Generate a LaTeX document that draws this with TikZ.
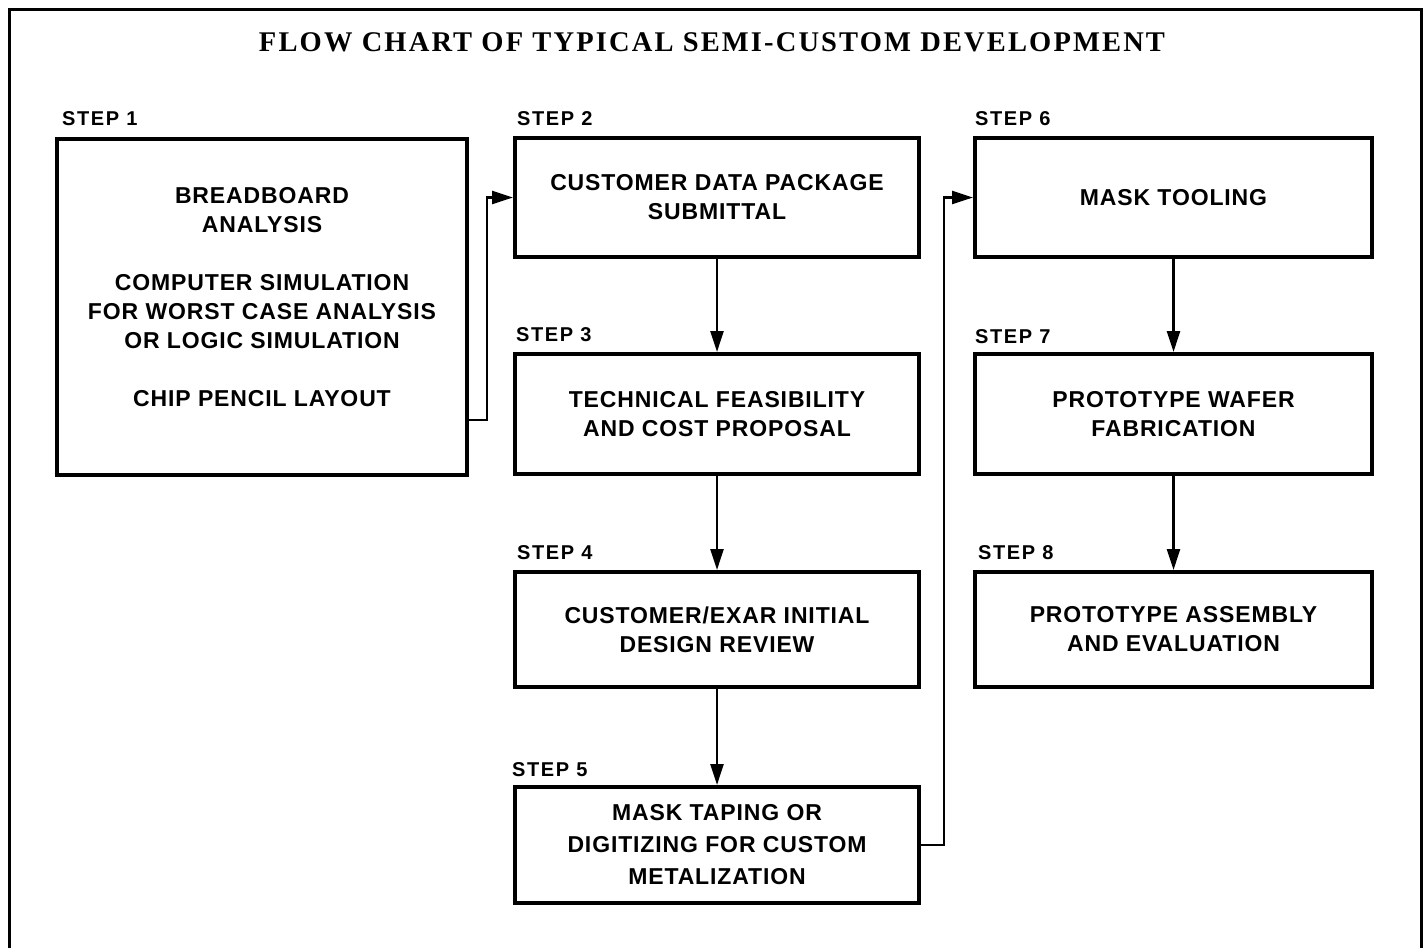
\documentclass[tikz,border=0pt]{standalone}
\usepackage{fontspec}
\setmainfont{Liberation Serif}
\newfontfamily\titlefont{Liberation Serif}[LetterSpace=7.5]
\newfontfamily\boxfont{Liberation Sans}[LetterSpace=3.8]
\newfontfamily\lblfont{Liberation Sans}[LetterSpace=8]
\usetikzlibrary{arrows.meta}
\tikzset{
  boxtext/.style={font=\boxfont\bfseries\fontsize{23}{29}\selectfont},
  stepbox/.style={draw, line width=4pt, inner sep=0pt, align=center, boxtext},
  steplbl/.style={anchor=base west, inner sep=0pt,
    font=\lblfont\bfseries\fontsize{20}{22}\selectfont},
  conn/.style={line width=2.5pt, -{Triangle[length=21pt,width=13pt]}},
  frameline/.style={line width=3pt},
}
\begin{document}
\begin{tikzpicture}[x=1pt,y=-1pt]
\useasboundingbox (0,0) rectangle (1426,948);
\draw[frameline] (9,948) -- (9,9) -- (1421,9) -- (1421,948);
\node (title) at (712,42) {\titlefont\bfseries\fontsize{28.5}{30}\selectfont FLOW CHART OF TYPICAL SEMI-CUSTOM DEVELOPMENT};

\node[stepbox, minimum width=410pt, minimum height=336pt] (s1) at (262,307) {};
\node[boxtext, align=center] (t1) at (262,297.5)
  {BREADBOARD\\ANALYSIS\\[29pt]COMPUTER SIMULATION\\FOR WORST CASE ANALYSIS\\OR LOGIC SIMULATION\\[29pt]CHIP PENCIL LAYOUT};
\node[stepbox, minimum width=404pt, minimum height=119pt] (s2) at (717,197.5) {CUSTOMER DATA PACKAGE\\SUBMITTAL};
\node[stepbox, minimum width=404pt, minimum height=120pt] (s3) at (717,414) {TECHNICAL FEASIBILITY\\AND COST PROPOSAL};
\node[stepbox, minimum width=404pt, minimum height=115pt] (s4) at (717,629.5) {CUSTOMER/EXAR INITIAL\\DESIGN REVIEW};
\node[stepbox, minimum width=404pt, minimum height=116pt, font=\boxfont\bfseries\fontsize{23}{32}\selectfont] (s5) at (717,845) {MASK TAPING OR\\DIGITIZING FOR CUSTOM\\METALIZATION};
\node[stepbox, minimum width=397pt, minimum height=119pt] (s6) at (1173.5,197.5) {MASK TOOLING};
\node[stepbox, minimum width=397pt, minimum height=120pt] (s7) at (1173.5,414) {PROTOTYPE WAFER\\FABRICATION};
\node[stepbox, minimum width=397pt, minimum height=115pt] (s8) at (1173.5,629.5) {PROTOTYPE ASSEMBLY\\AND EVALUATION};

\node[steplbl] (l1) at (62,125) {STEP 1};
\node[steplbl] (l2) at (517,125) {STEP 2};
\node[steplbl] (l3) at (516,341) {STEP 3};
\node[steplbl] (l4) at (517,559) {STEP 4};
\node[steplbl] (l5) at (512,776) {STEP 5};
\node[steplbl] (l6) at (975,125) {STEP 6};
\node[steplbl] (l7) at (975,343) {STEP 7};
\node[steplbl] (l8) at (978,559) {STEP 8};

\draw[conn] ([yshift=-113pt]s1.east) -- ++(18,0) |- (s2.west);
\draw[conn] (s5.east) -- ++(23,0) |- (s6.west);
\draw[conn] (s2) -- (s3);
\draw[conn] (s3) -- (s4);
\draw[conn] (s4) -- (s5);
\draw[conn] (s6) -- (s7);
\draw[conn] (s7) -- (s8);
\end{tikzpicture}
\end{document}
